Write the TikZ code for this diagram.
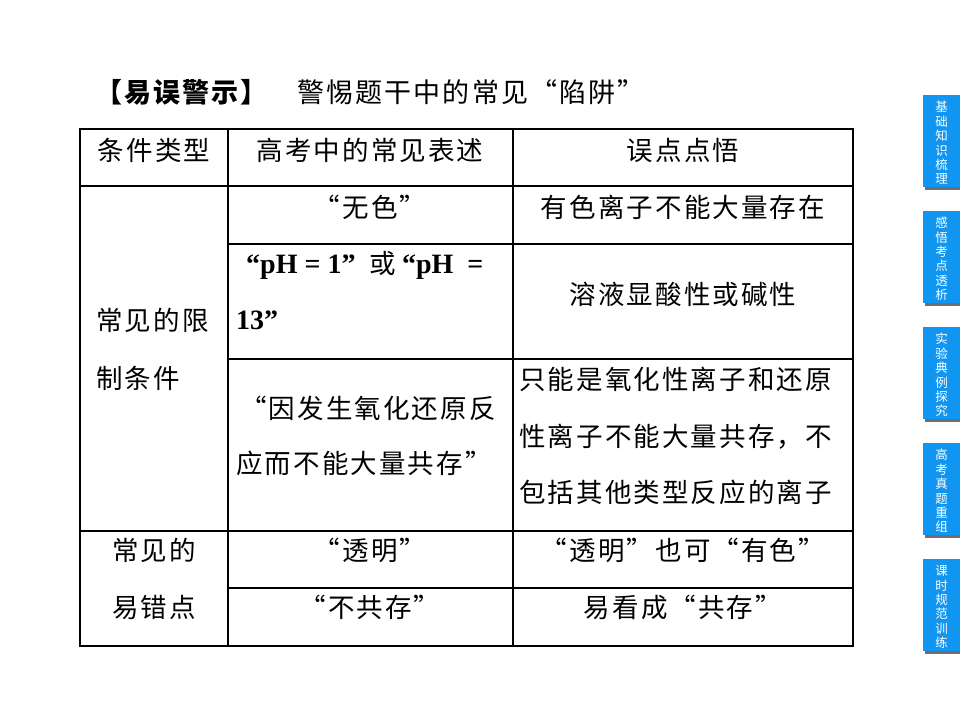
\documentclass[tikz,border=0pt]{standalone}
\usepackage{fontspec}
\setmainfont{Noto Sans CJK SC}[LetterSpace=8]
\newfontfamily\sidefont{Noto Sans CJK SC}
\newfontfamily\tnr{Liberation Serif}[LetterSpace=0]
\definecolor{tabblue}{RGB}{16,150,240}
\definecolor{tabshadow}{RGB}{110,110,110}
\newcommand{\latb}[1]{{\tnr\bfseries\fontsize{28}{28}\selectfont #1}}
\begin{document}
\begin{tikzpicture}[x=1pt,y=-1pt,
  tline/.style={line width=1.3pt,black},
  tx/.style={inner sep=0pt,font=\fontsize{26.5}{26.5}\selectfont},
  ttl/.style={inner sep=0pt,font=\fontsize{27}{27}\selectfont},
  sidetab/.style={fill=tabblue},
  sideshadow/.style={fill=tabshadow},
  sidetext/.style={inner sep=0pt,text=white,align=center,font=\sidefont\fontsize{12.5}{14.4}\selectfont}]
\useasboundingbox (0,0) rectangle (960,720);
\fill[white] (0,0) rectangle (960,720);
% title
\node[ttl,anchor=west] (t1) at (95,92) {\bfseries 【易误警示】};
\node[ttl,anchor=west] (t2) at (297,92) {警惕题干中的常见“陷阱”};
% table grid
\draw[tline] (80,129) rectangle (853,646);
\draw[tline] (228,129) -- (228,646);
\draw[tline] (513,129) -- (513,646);
\draw[tline] (80,186) -- (853,186);
\draw[tline] (228,244) -- (853,244);
\draw[tline] (228,359) -- (853,359);
\draw[tline] (80,531) -- (853,531);
\draw[tline] (228,588) -- (853,588);
% header
\node[tx] (h1) at (154,150) {条件类型};
\node[tx] (h2) at (370,150) {高考中的常见表述};
\node[tx] (h3) at (683,150) {误点点悟};
% row: colourless
\node[tx] (r1a) at (370,207) {“无色”};
\node[tx] (r1b) at (683,207) {有色离子不能大量存在};
% row: pH
\node[tx,anchor=west] (r2a) at (246,265) {\latb{“pH = 1”}\hspace{14pt}或\hspace{6pt}\latb{“pH\ \ =}};
\node[tx,anchor=west] (r2c) at (236,320) {\latb{13”}};
\node[tx] (r2b) at (683,294) {溶液显酸性或碱性};
% row: redox
\node[tx,anchor=west] (r3a) at (240,408) {“因发生氧化还原反};
\node[tx,anchor=west] (r3c) at (236,463) {应而不能大量共存”};
\node[tx,anchor=west] (r3b) at (519,379) {只能是氧化性离子和还原};
\node[tx,anchor=west] (r3d) at (519,437) {性离子不能大量共存，不};
\node[tx,anchor=west] (r3e) at (519,492) {包括其他类型反应的离子};
% left column group 1
\node[tx,anchor=west] (c1a) at (96,320) {常见的限};
\node[tx,anchor=west] (c1b) at (96,378) {制条件};
% group 2
\node[tx] (c2a) at (154,550) {常见的};
\node[tx] (c2b) at (154,607) {易错点};
\node[tx] (r4a) at (370,550) {“透明”};
\node[tx] (r4b) at (683,550) {“透明”也可“有色”};
\node[tx] (r5a) at (370,607) {“不共存”};
\node[tx] (r5b) at (683,607) {易看成“共存”};
% side tabs
\foreach \i/\txt in {0/基\\础\\知\\识\\梳\\理,1/感\\悟\\考\\点\\透\\析,2/实\\验\\典\\例\\探\\究,3/高\\考\\真\\题\\重\\组,4/课\\时\\规\\范\\训\\练}{
  \pgfmathsetmacro{\ty}{95+116*\i}
  \fill[sideshadow] (925,\ty+3) rectangle (960,\ty+95);
  \fill[sidetab] (923,\ty) rectangle (960,\ty+92);
  \node[sidetext] (side\i) at (941.5,\ty+48) {\txt};
}
\end{tikzpicture}
\end{document}
